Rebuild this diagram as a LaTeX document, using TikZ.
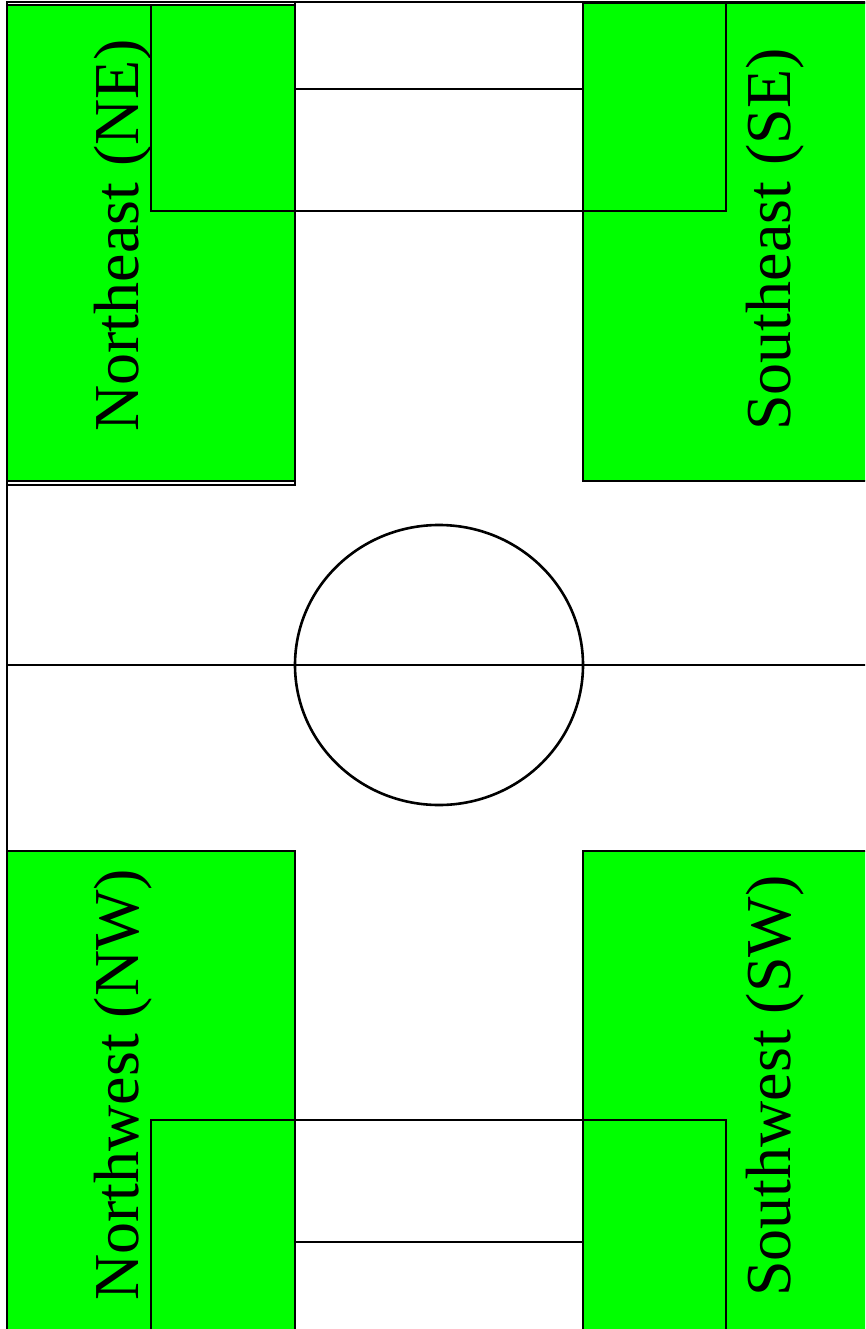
\documentclass[tikz,border=0pt]{standalone}
\usepackage{fontspec}
\setmainfont{Liberation Serif}
\definecolor{fieldgreen}{RGB}{0,255,0}
\begin{document}
\begin{tikzpicture}[x=1pt,y=-1pt,line width=2.6pt,
  zone/.style={draw=black,fill=fieldgreen},
  goalbox/.style={draw=black,fill=fieldgreen},
  pline/.style={draw=black},
  zlabel/.style={rotate=90,anchor=base west,inner sep=0pt,font=\fontsize{64}{70}\selectfont}]
\useasboundingbox (0,0) rectangle (865,1329);
\clip (0,0) rectangle (865,1329);
\fill[white] (0,0) rectangle (865,1329);
% field outline
\draw[pline] (7,1400) -- (7,2) -- (900,2);
% corner zones
\draw[zone] (7,5) rectangle (295,481);
\draw[pline] (7,2) rectangle (295,485);
\draw[zone] (583,3) rectangle (900,481);
\draw[zone] (7,851) rectangle (295,1400);
\draw[zone] (583,851) rectangle (900,1400);
% goal boxes
\draw[goalbox] (151,5) rectangle (295,211);
\draw[goalbox] (583,3) rectangle (726,211);
\draw[goalbox] (151,1120) rectangle (295,1400);
\draw[goalbox] (583,1120) rectangle (726,1400);
% goal lines
\draw[pline] (295,89) -- (583,89);
\draw[pline] (295,211) -- (583,211);
\draw[pline] (295,1120) -- (583,1120);
\draw[pline] (295,1242) -- (583,1242);
% centre
\draw[pline] (7,665) -- (900,665);
\draw[pline] (439,665) ellipse [x radius=144pt, y radius=140pt];
% labels
\node[zlabel] (ne) at (138,433) {Northeast (NE)};
\node[zlabel] (se) at (790,432) {Southeast (SE)};
\node[zlabel] (nw) at (138,1302) {Northwest (NW)};
\node[zlabel] (sw) at (790,1298) {Southwest (SW)};
\end{tikzpicture}
\end{document}
